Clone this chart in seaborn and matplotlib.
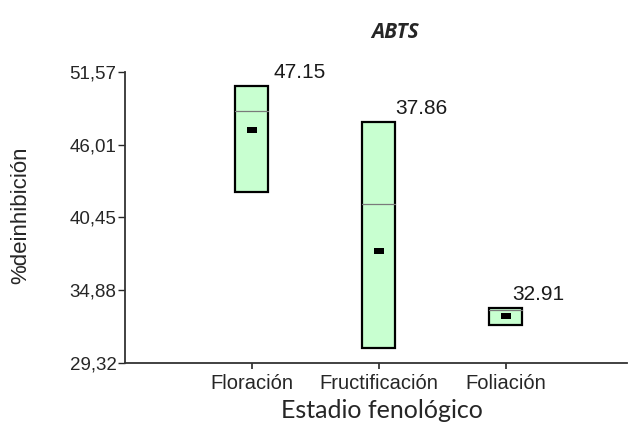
import matplotlib
matplotlib.use("Agg")
import matplotlib.pyplot as plt
import seaborn as sns
import pandas as pd

# Per-stage summary of % inhibition (ABTS)
stages = ["Floración", "Fructificación", "Foliación"]
maxima = [50.50, 47.76, 33.51]
minima = [42.42, 30.46, 32.21]
medians = [48.60, 41.51, 33.35]
means = [47.15, 37.86, 32.91]
mean_labels = ["47.15", "37.86", "32.91"]
yticks = [29.32, 34.88, 40.45, 46.01, 51.57]
ytick_labels = ["29,32", "34,88", "40,45", "46,01", "51,57"]

sns.set_theme(style="white")
plt.rcParams["font.family"] = ["Liberation Sans", "DejaVu Sans"]

df = pd.DataFrame({
    "stage": stages,
    "span": [hi - lo for hi, lo in zip(maxima, minima)],
    "low": minima,
    "high": maxima,
    "median": medians,
    "mean": means,
})

fig = plt.figure(figsize=(6.28, 4.22), dpi=100)
ax = fig.add_axes([0.199, 0.14, 0.80, 0.689])

box_w = 0.26
# min-max boxes, stacked on their lower limit
sns.barplot(data=df, x="stage", y="span", bottom=df["low"].to_numpy(),
            color="#c8ffd0", saturation=1, width=box_w,
            edgecolor="black", linewidth=1.6, ax=ax)

# median line inside each box
for i, m in enumerate(medians):
    ax.plot([i - box_w / 2, i + box_w / 2], [m, m], color="#7a7a7a", lw=0.9, zorder=3)

# mean marker: small horizontal black rectangle
rect_marker = [(-1.6, -1), (1.6, -1), (1.6, 1), (-1.6, 1), (-1.6, -1)]
sns.scatterplot(data=df, x="stage", y="mean", marker=rect_marker, s=45,
                color="black", edgecolor="black", linewidth=0, zorder=4, ax=ax)

# value labels above the right corner of each box
label_dx = [4, 0, -7]
for i, (hi, lab, dx) in enumerate(zip(maxima, mean_labels, label_dx)):
    ax.annotate(lab, xy=(i + box_w / 2, hi), xytext=(dx, 3),
                textcoords="offset points", ha="left", va="bottom",
                fontsize=15, color="#1a1a1a")

ax.set_xlim(-1.0, 2.96)
ax.set_ylim(29.32, 51.57)
ax.set_yticks(yticks)
ax.set_yticklabels(ytick_labels, fontsize=13.5)
ax.tick_params(axis="x", labelsize=14.5, length=4, width=1.2, direction="out", pad=4)
ax.tick_params(axis="y", length=5, width=1.0, direction="out", pad=1)
ax.tick_params(bottom=True, left=True)

for side in ["top", "right"]:
    ax.spines[side].set_visible(False)
for side in ["left", "bottom"]:
    ax.spines[side].set_color("#333333")
    ax.spines[side].set_linewidth(1.3)

ax.set_xlabel("")
ax.set_ylabel("")
fig.text(0.608, 0.028, "Estadio fenológico", fontsize=18,
         family=["Lato", "DejaVu Sans"], ha="center", va="center")
fig.text(0.033, 0.49, "%deinhibición", fontsize=16, rotation=90,
         ha="center", va="center")

fig.text(0.629, 0.922, "ABTS", fontsize=15, fontweight="bold", fontstyle="italic",
         family=["Open Sans", "DejaVu Sans"], ha="center", va="center")

fig.savefig("out.png", dpi=100)
